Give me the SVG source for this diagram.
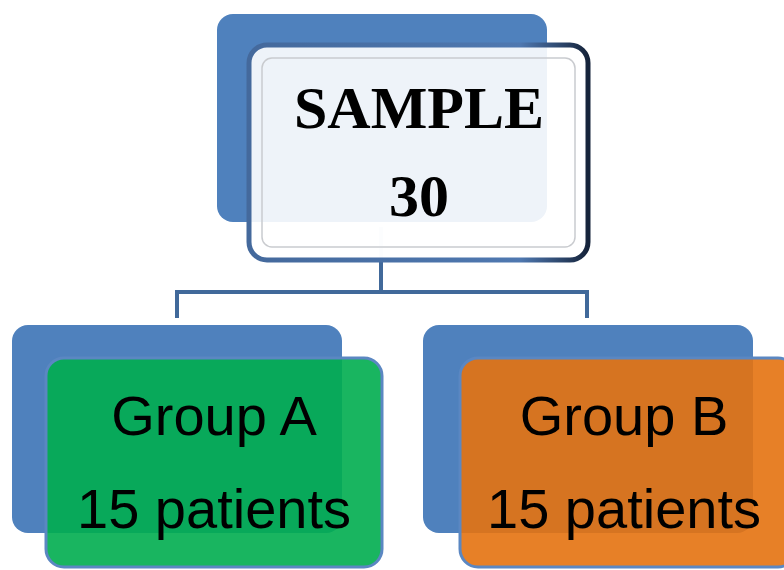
<svg xmlns="http://www.w3.org/2000/svg" width="784" height="570" viewBox="0 0 784 570">
<defs>
<style>
.back{fill:#4f81bd}
.lbl{font-family:"Liberation Sans",Arial,sans-serif;font-size:56px;fill:#000;text-anchor:middle}
.top{font-family:"Liberation Serif","Times New Roman",serif;font-size:60px;font-weight:bold;fill:#000;text-anchor:middle}
.conn{fill:none;stroke:#41699a;stroke-width:4}
</style>
<linearGradient id="bevel" x1="0" y1="0" x2="1" y2="0">
<stop offset="0" stop-color="#44699c"/>
<stop offset="0.8" stop-color="#4f78b0"/>
<stop offset="0.93" stop-color="#2a4266"/>
<stop offset="1" stop-color="#15233a"/>
</linearGradient>
</defs>
<rect width="784" height="570" fill="#fff"/>
<g id="connectors">
<path class="conn" d="M381 262V292M177 318V292H587V318"/>
<line x1="381" y1="227" x2="381" y2="262" stroke="#dfe6f0" stroke-width="4"/>
</g>
<g id="sample">
<rect class="back" x="217" y="14" width="330" height="208" rx="16"/>
<rect x="249" y="45" width="339" height="215" rx="18" fill="#fff" fill-opacity="0.9" stroke="url(#bevel)" stroke-width="5"/>
<rect x="262" y="58" width="313" height="189" rx="10" fill="none" stroke="#c9cbcf" stroke-width="1.5"/>
<text class="top" x="419" y="128">SAMPLE</text>
<text class="top" x="419" y="216">30</text>
</g>
<g id="groupA">
<rect class="back" x="12" y="325" width="330" height="208" rx="16"/>
<rect x="46" y="358" width="336" height="209" rx="18" fill="#00ad4f" fill-opacity="0.9" stroke="#5b87c2" stroke-width="3"/>
<text class="lbl" x="214" y="435">Group A</text>
<text class="lbl" x="214" y="528">15 patients</text>
</g>
<g id="groupB">
<rect class="back" x="423" y="325" width="330" height="208" rx="16"/>
<rect x="460" y="358" width="336" height="209" rx="18" fill="#e4720f" fill-opacity="0.9" stroke="#5b87c2" stroke-width="3"/>
<text class="lbl" x="624" y="435">Group B</text>
<text class="lbl" x="624" y="528">15 patients</text>
</g>
</svg>
